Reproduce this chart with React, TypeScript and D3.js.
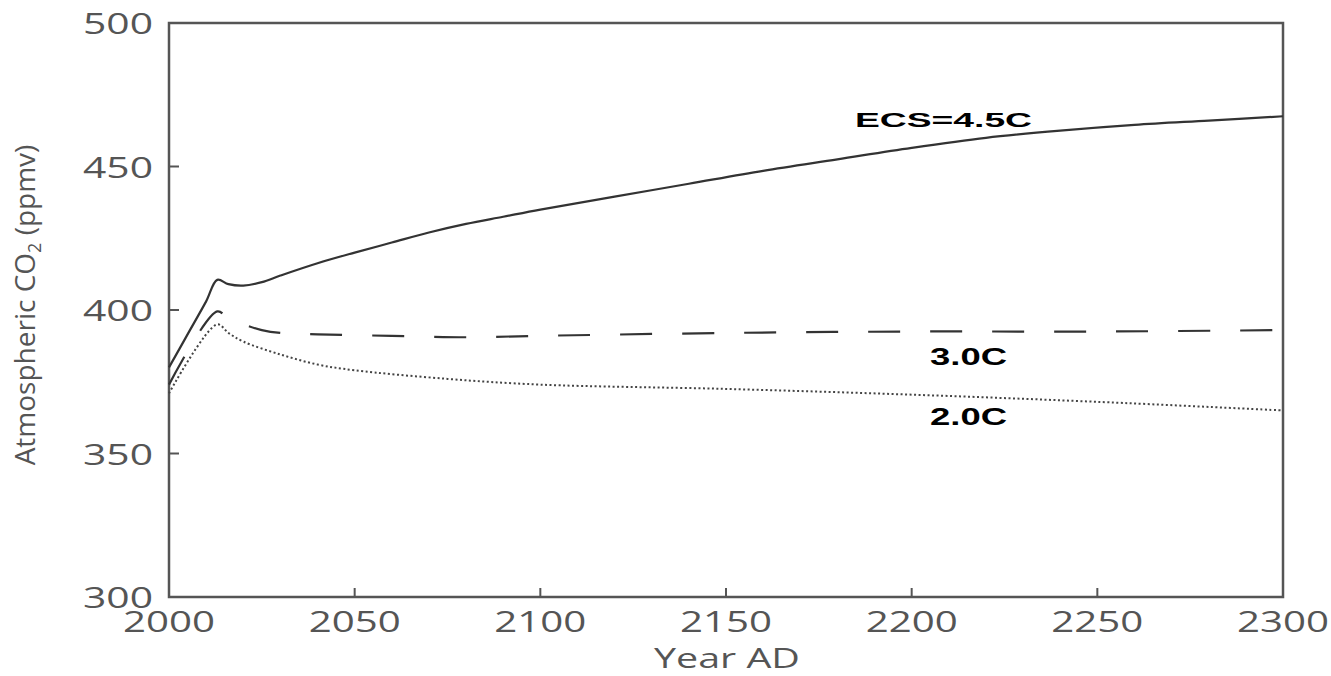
import React from "react";
import * as d3 from "d3";

const yearsSolid = [2000, 2005, 2010, 2013, 2016, 2020, 2025, 2030, 2040, 2050, 2060, 2070, 2080, 2090, 2100, 2120, 2140, 2160, 2180, 2200, 2220, 2240, 2260, 2280, 2300];
const ecs45 = [380, 391.5, 403, 410.5, 409, 408.5, 409.7, 412, 416.3, 420, 423.5, 427, 430, 432.5, 435, 439.5, 444, 448.5, 452.5, 456.5, 460, 462.5, 464.5, 466, 467.5];

const yearsDashed = [2000, 2013, 2016, 2020, 2025, 2030, 2040, 2060, 2080, 2100, 2150, 2200, 2250, 2300];
const ecs30 = [374, 399.5, 397, 395, 393, 392, 391.5, 391, 390.5, 391, 392, 392.5, 392.5, 393];

const yearsDotted = [2000, 2013, 2016, 2020, 2030, 2040, 2050, 2075, 2100, 2150, 2200, 2250, 2300];
const ecs20 = [371, 395, 392, 389, 384.5, 381, 379, 376, 374, 372.5, 370.5, 368, 365];

const xTicks = [2000, 2050, 2100, 2150, 2200, 2250, 2300];
const yTicks = [300, 350, 400, 450, 500];

export default function App() {
  const W = 1331, H = 676;
  const left = 169, right = 1283, top = 23, bottom = 597;
  const x = d3.scaleLinear().domain([2000, 2300]).range([left, right]);
  const y = d3.scaleLinear().domain([300, 500]).range([bottom, top]);
  const mk = (xs: number[], ys: number[]) =>
    d3.line<number>().x((_, i) => x(xs[i])).y((d) => y(d)).curve(d3.curveCatmullRom.alpha(0.5))(ys) || "";

  const tickFont = "'Open Sans', 'DejaVu Sans', sans-serif";
  const grey = "#555";
  return (
    <svg width={W} height={H} style={{ position: "absolute", left: 0, top: 0, background: "#fff" }}>
      <rect x={left} y={top} width={right - left} height={bottom - top} fill="none" stroke={grey} strokeWidth={2.5} />
      {yTicks.slice(1, -1).map((t) => (
        <line key={"yt" + t} x1={left} x2={left + 10} y1={y(t)} y2={y(t)} stroke={grey} strokeWidth={2} />
      ))}
      {xTicks.slice(1, -1).map((t) => (
        <line key={"xt" + t} x1={x(t)} x2={x(t)} y1={bottom} y2={bottom - 9} stroke={grey} strokeWidth={2} />
      ))}
      {yTicks.map((t) => (
        <text key={"yl" + t} x={153} y={y(t) + 11} textAnchor="end" fontFamily={tickFont} fontSize={30} fill={grey}
          textLength={70} lengthAdjust="spacingAndGlyphs">{t}</text>
      ))}
      {xTicks.map((t) => (
        <text key={"xl" + t} x={x(t)} y={632} textAnchor="middle" fontFamily={tickFont} fontSize={30} fill={grey}
          textLength={92} lengthAdjust="spacingAndGlyphs">{t}</text>
      ))}
      <text x={727} y={668} textAnchor="middle" fontFamily={tickFont} fontSize={27} fill={grey}
        textLength={146} lengthAdjust="spacingAndGlyphs">Year AD</text>
      <text transform="translate(35,305) rotate(-90)" textAnchor="middle" fontFamily={tickFont} fontSize={28} fill={grey}>
        Atmospheric CO<tspan fontSize={18} dy={6}>2</tspan><tspan dy={-6}> (ppmv)</tspan>
      </text>

      <path d={mk(yearsSolid, ecs45)} fill="none" stroke="#333" strokeWidth={2.2} />
      <path d={mk(yearsDashed, ecs30)} fill="none" stroke="#333" strokeWidth={2.2} strokeDasharray="32 30" />
      <path d={mk(yearsDotted, ecs20)} fill="none" stroke="#444" strokeWidth={2} strokeDasharray="2 2.5" />

      <text x={855} y={127} fontFamily="'Liberation Sans', Arial, sans-serif" fontWeight="bold" fontSize={21} fill="#000"
        textLength={177} lengthAdjust="spacingAndGlyphs">ECS=4.5C</text>
      <text x={930} y={365} fontFamily="'Liberation Sans', Arial, sans-serif" fontWeight="bold" fontSize={23} fill="#000"
        textLength={77} lengthAdjust="spacingAndGlyphs">3.0C</text>
      <text x={930} y={425} fontFamily="'Liberation Sans', Arial, sans-serif" fontWeight="bold" fontSize={23} fill="#000"
        textLength={77} lengthAdjust="spacingAndGlyphs">2.0C</text>
    </svg>
  );
}
